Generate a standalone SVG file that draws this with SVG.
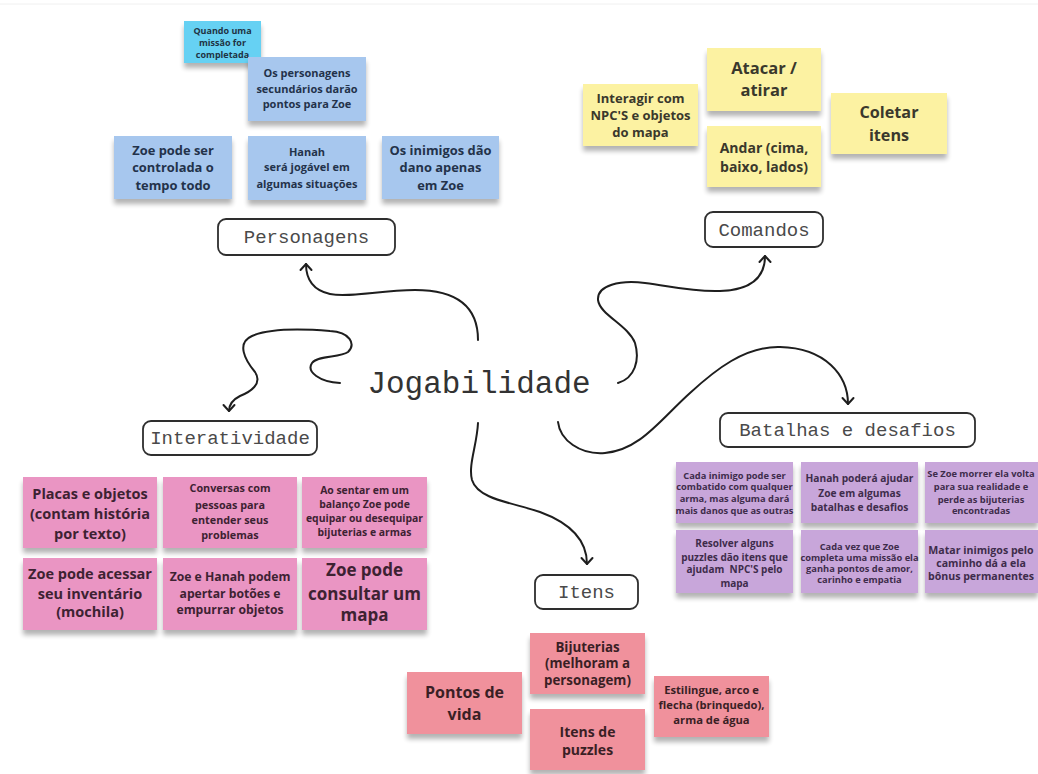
<svg xmlns="http://www.w3.org/2000/svg" width="1038" height="774" viewBox="0 0 1038 774">
  <defs>
    <style>
      .note { font-family: "Open Sans", "Liberation Sans", sans-serif; font-weight: 700; text-anchor: middle; }
      .blue rect { fill: #a7c7ee; }
      .blue text { fill: #23324a; }
      .cyan rect { fill: #66d1f3; }
      .cyan text { fill: #1f3344; }
      .yellow rect { fill: #fcf2a2; }
      .yellow text { fill: #3a382c; }
      .pink rect { fill: #ea95c3; }
      .pink text { fill: #3d2232; }
      .purple rect { fill: #c8a6da; }
      .purple text { fill: #3e2c4b; }
      .salmon rect { fill: #f0919c; }
      .salmon text { fill: #3a1f25; }
      .sticky rect { filter: url(#noteShadow); }
      .label rect { fill: #ffffff; stroke: #2e2e2e; stroke-width: 1.8; }
      .label text { font-family: "Liberation Mono", "DejaVu Sans Mono", monospace; font-size: 19px; fill: #4a4a4a; text-anchor: middle; }
      .hub { font-family: "Liberation Mono", "DejaVu Sans Mono", monospace; font-size: 31px; fill: #333; text-anchor: middle; }
      .link { fill: none; stroke: #1e1e1e; stroke-width: 2; stroke-linecap: round; marker-end: url(#chevron); }
    </style>
    <filter id="noteShadow" x="-10%" y="-10%" width="120%" height="135%">
      <feOffset in="SourceAlpha" dx="0" dy="5" result="off"/>
      <feGaussianBlur in="off" stdDeviation="2.5" result="blur"/>
      <feComponentTransfer in="blur" result="soft">
        <feFuncA type="linear" slope="0.3"/>
      </feComponentTransfer>
      <feMerge>
        <feMergeNode in="soft"/>
        <feMergeNode in="SourceGraphic"/>
      </feMerge>
    </filter>
    <marker id="chevron" viewBox="-8 -8 10 16" refX="0" refY="0" markerWidth="10" markerHeight="16" markerUnits="userSpaceOnUse" orient="auto">
      <path d="M-6,-5.5 L0,0 L-6,5.5" fill="none" stroke="#1e1e1e" stroke-width="2" stroke-linecap="round" stroke-linejoin="round"/>
    </marker>
  </defs>

  <rect width="1038" height="774" fill="#ffffff"/>
  <line x1="0" y1="4" x2="1038" y2="4" stroke="#f0f0f0" stroke-width="1"/>

  <!-- connectors from the central topic -->
  <g id="connectors">
    <path class="link" d="M478,340 C478,305 455,290 415,290 C380,290 350,298 330,294 C312,290 306,278 306,264"/>
    <path class="link" d="M340,383 C320,382 306,372 312,363 C318,355 340,358 348,352 C356,344 350,332 330,331 C305,329 270,328 252,336 C236,343 245,360 255,372 C263,384 250,392 240,396 C232,400 229,405 229,411"/>
    <path class="link" d="M618,383 C635,378 640,360 635,343 C628,325 600,315 598,300 C597,285 620,280 645,283 C670,286 690,292 720,291 C750,290 765,278 765,256"/>
    <path class="link" d="M558,422 C560,440 580,455 605,453 C640,450 660,420 690,393 C715,370 745,346 780,347 C825,348 848,375 848,404"/>
    <path class="link" d="M478,423 C477,445 468,465 472,480 C478,500 515,503 540,512 C570,523 587,540 587,564"/>
  </g>

  <!-- central topic -->
  <g id="jogabilidade">
    <text class="hub" x="479" y="393">Jogabilidade</text>
  </g>

  <!-- Personagens -->
  <g id="personagens" class="label">
    <rect x="218" y="219" width="177" height="36" rx="8"/>
    <text x="306.5" y="243">Personagens</text>
  </g>
  <g id="p-missao" class="sticky cyan note" font-size="9">
    <rect x="184" y="21" width="77" height="42"/>
    <text x="222.5" y="33.5">Quando uma</text>
    <text x="222.5" y="46">missão for</text>
    <text x="222.5" y="57.5">completada</text>
  </g>
  <g id="p-secundarios" class="sticky blue note" font-size="11">
    <rect x="248" y="57" width="118" height="64"/>
    <text x="307" y="77">Os personagens</text>
    <text x="307" y="93">secundários darão</text>
    <text x="307" y="108">pontos para Zoe</text>
  </g>
  <g id="p-zoe" class="sticky blue note" font-size="12.9">
    <rect x="114" y="136" width="118" height="63"/>
    <text x="173" y="155">Zoe pode ser</text>
    <text x="173" y="172">controlada o</text>
    <text x="173" y="190">tempo todo</text>
  </g>
  <g id="p-hanah" class="sticky blue note" font-size="11">
    <rect x="248" y="136" width="118" height="64"/>
    <text x="307" y="156">Hanah</text>
    <text x="307" y="171">será jogável em</text>
    <text x="307" y="188">algumas situações</text>
  </g>
  <g id="p-inimigos" class="sticky blue note" font-size="12.9">
    <rect x="382" y="136" width="117" height="63"/>
    <text x="440.5" y="155">Os inimigos dão</text>
    <text x="440.5" y="172">dano apenas</text>
    <text x="440.5" y="190">em Zoe</text>
  </g>

  <!-- Comandos -->
  <g id="comandos" class="label">
    <rect x="705" y="212" width="118" height="35" rx="8"/>
    <text x="764" y="236">Comandos</text>
  </g>
  <g id="c-atacar" class="sticky yellow note" font-size="16.5">
    <rect x="707" y="48" width="114" height="63"/>
    <text x="764" y="74">Atacar /</text>
    <text x="764" y="96">atirar</text>
  </g>
  <g id="c-interagir" class="sticky yellow note" font-size="13">
    <rect x="583" y="84" width="115" height="62"/>
    <text x="640.5" y="102.5">Interagir com</text>
    <text x="640.5" y="119.5">NPC'S e objetos</text>
    <text x="640.5" y="136.5">do mapa</text>
  </g>
  <g id="c-andar" class="sticky yellow note" font-size="14">
    <rect x="707" y="126" width="114" height="61"/>
    <text x="764" y="153">Andar (cima,</text>
    <text x="764" y="172">baixo, lados)</text>
  </g>
  <g id="c-coletar" class="sticky yellow note" font-size="16.2">
    <rect x="831" y="93" width="116" height="61"/>
    <text x="889" y="118">Coletar</text>
    <text x="889" y="141">itens</text>
  </g>

  <!-- Interatividade -->
  <g id="interatividade" class="label">
    <rect x="143" y="421" width="174" height="34" rx="8"/>
    <text x="230" y="444">Interatividade</text>
  </g>
  <g id="i-placas" class="sticky pink note" font-size="14.5">
    <rect x="23" y="477" width="134" height="71"/>
    <text x="90" y="498.5">Placas e objetos</text>
    <text x="90" y="518.5">(contam história</text>
    <text x="90" y="538.5">por texto)</text>
  </g>
  <g id="i-conversas" class="sticky pink note" font-size="10.8">
    <rect x="163" y="477" width="134" height="71"/>
    <text x="230" y="492">Conversas com</text>
    <text x="230" y="509">pessoas para</text>
    <text x="230" y="524">entender seus</text>
    <text x="230" y="539">problemas</text>
  </g>
  <g id="i-balanco" class="sticky pink note" font-size="10.4">
    <rect x="302" y="477" width="125" height="71"/>
    <text x="364.5" y="493.7">Ao sentar em um</text>
    <text x="364.5" y="507.7">balanço Zoe pode</text>
    <text x="364.5" y="522">equipar ou desequipar</text>
    <text x="364.5" y="536.4">bijuterias e armas</text>
  </g>
  <g id="i-inventario" class="sticky pink note" font-size="14.5">
    <rect x="23" y="558" width="134" height="72"/>
    <text x="90" y="578.5">Zoe pode acessar</text>
    <text x="90" y="598.5">seu inventário</text>
    <text x="90" y="617">(mochila)</text>
  </g>
  <g id="i-botoes" class="sticky pink note" font-size="12.2">
    <rect x="163" y="558" width="134" height="72"/>
    <text x="230" y="581">Zoe e Hanah podem</text>
    <text x="230" y="598.4">apertar botões e</text>
    <text x="230" y="614.4">empurrar objetos</text>
  </g>
  <g id="i-mapa" class="sticky pink note" font-size="17">
    <rect x="302" y="558" width="125" height="72"/>
    <text x="364.5" y="576.3">Zoe pode</text>
    <text x="364.5" y="599.6">consultar um</text>
    <text x="364.5" y="621.3">mapa</text>
  </g>

  <!-- Batalhas e desafios -->
  <g id="batalhas" class="label">
    <rect x="720" y="413" width="255" height="34" rx="8"/>
    <text x="847.5" y="436">Batalhas e desafios</text>
  </g>
  <g id="b-arma" class="sticky purple note" font-size="9.3">
    <rect x="676" y="462" width="117" height="61"/>
    <text x="734.5" y="478.5">Cada inimigo pode ser</text>
    <text x="734.5" y="490">combatido com qualquer</text>
    <text x="734.5" y="501.5">arma, mas alguma dará</text>
    <text x="734.5" y="513.5">mais danos que as outras</text>
  </g>
  <g id="b-hanah" class="sticky purple note" font-size="10.2">
    <rect x="801" y="462" width="117" height="61"/>
    <text x="859.5" y="482">Hanah poderá ajudar</text>
    <text x="859.5" y="497">Zoe em algumas</text>
    <text x="859.5" y="511">batalhas e desafios</text>
  </g>
  <g id="b-morrer" class="sticky purple note" font-size="9.3">
    <rect x="925" y="462" width="113" height="61"/>
    <text x="981" y="477">Se Zoe morrer ela volta</text>
    <text x="981" y="490">para sua realidade e</text>
    <text x="981" y="502.5">perde as bijuterias</text>
    <text x="981" y="514">encontradas</text>
  </g>
  <g id="b-puzzles" class="sticky purple note" font-size="10">
    <rect x="676" y="530" width="117" height="63"/>
    <text x="734.5" y="547">Resolver alguns</text>
    <text x="734.5" y="560.5">puzzles dão itens que</text>
    <text x="734.5" y="572.5" xml:space="preserve">ajudam  NPC'S pelo</text>
    <text x="734.5" y="586.5">mapa</text>
  </g>
  <g id="b-missao" class="sticky purple note" font-size="9.3">
    <rect x="801" y="530" width="117" height="63"/>
    <text x="859.5" y="550">Cada vez que Zoe</text>
    <text x="859.5" y="561">completa uma missão ela</text>
    <text x="859.5" y="572">ganha pontos de amor,</text>
    <text x="859.5" y="583">carinho e empatia</text>
  </g>
  <g id="b-bonus" class="sticky purple note" font-size="10.6">
    <rect x="925" y="530" width="113" height="63"/>
    <text x="981" y="554">Matar inimigos pelo</text>
    <text x="981" y="567">caminho dá a ela</text>
    <text x="981" y="580">bônus permanentes</text>
  </g>

  <!-- Itens -->
  <g id="itens" class="label">
    <rect x="535" y="575" width="103" height="34" rx="8"/>
    <text x="586.5" y="598">Itens</text>
  </g>
  <g id="t-bijuterias" class="sticky salmon note" font-size="13.3">
    <rect x="530" y="633" width="115" height="61"/>
    <text x="587.5" y="651.8">Bijuterias</text>
    <text x="587.5" y="668">(melhoram a</text>
    <text x="587.5" y="684.8">personagem)</text>
  </g>
  <g id="t-vida" class="sticky salmon note" font-size="16">
    <rect x="407" y="672" width="115" height="62"/>
    <text x="464.5" y="697.6">Pontos de</text>
    <text x="464.5" y="720">vida</text>
  </g>
  <g id="t-puzzles" class="sticky salmon note" font-size="14">
    <rect x="530" y="709" width="115" height="61"/>
    <text x="587.5" y="736.7">Itens de</text>
    <text x="587.5" y="755">puzzles</text>
  </g>
  <g id="t-armas" class="sticky salmon note" font-size="11.2">
    <rect x="654" y="676" width="115" height="61"/>
    <text x="711.5" y="694">Estilingue, arco e</text>
    <text x="711.5" y="709">flecha (brinquedo),</text>
    <text x="711.5" y="724">arma de água</text>
  </g>
</svg>
